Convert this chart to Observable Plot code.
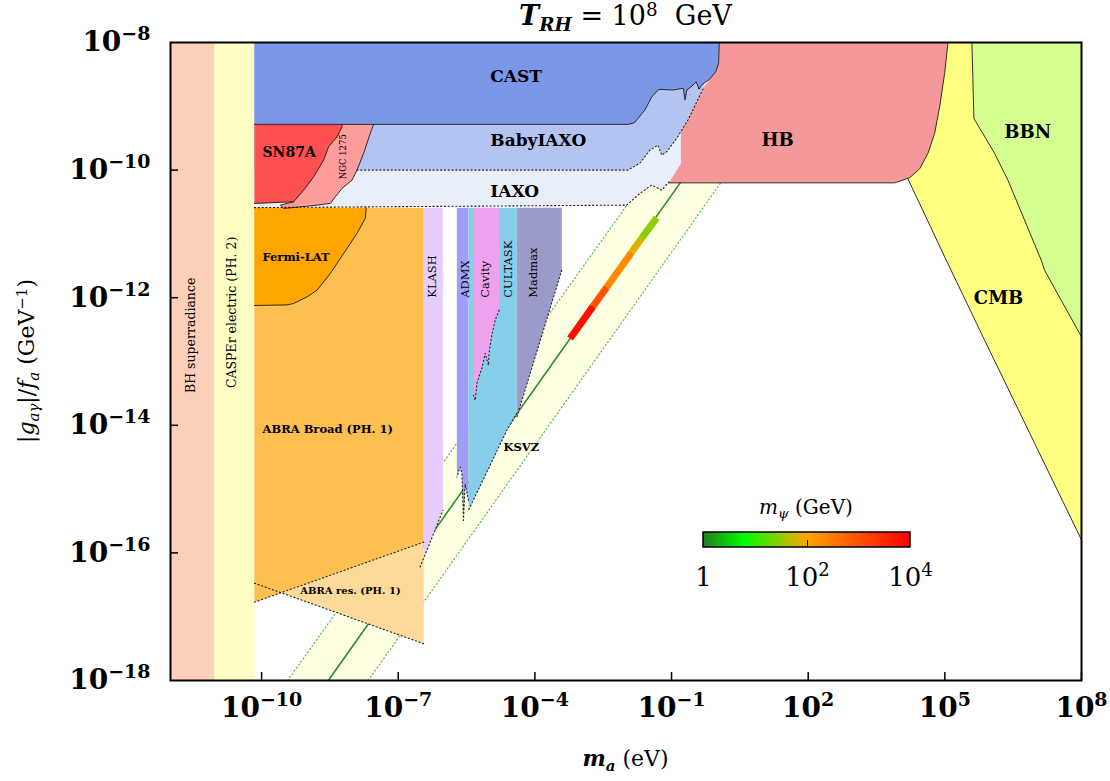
<!DOCTYPE html>
<html>
<head>
<meta charset="utf-8">
<script src="https://cdn.jsdelivr.net/npm/d3@7"></script>
<script src="https://cdn.jsdelivr.net/npm/@observablehq/plot@0.6"></script>
<style>
  html, body { margin: 0; padding: 0; background: #fff; }
  #chart { position: relative; width: 1110px; height: 781px; font-family: "DejaVu Serif", serif; color: #000; overflow: hidden; }
  #chart > svg.main { position: absolute; left: 0; top: 0; }
  .txt { position: absolute; white-space: nowrap; }
  #title { left: 170px; width: 911px; top: 2px; text-align: center; font-size: 27px; line-height: 28px; }
  #xlabel { left: 170px; width: 911px; top: 745px; text-align: center; font-size: 22px; line-height: 26px; }
  #ylabel { left: -173px; top: 346px; width: 400px; height: 30px; line-height: 30px; text-align: center; font-size: 22px; transform: rotate(-90deg); }
  #cbar { position: absolute; left: 683px; top: 532px; }
  #cbtitle { left: 706px; width: 200px; top: 495px; text-align: center; font-size: 20px; line-height: 24px; }
  .sb { position: relative; font-size: 0.68em; top: 0.32em; }
  .sp { position: relative; font-size: 0.68em; top: -0.5em; }
</style>
</head>
<body>
<div id="chart">
  <div class="txt" id="title"><b><i>T</i><span class="sb"><i>RH</i></span></b> = 10<span class="sp">8</span>&nbsp; GeV</div>
  <div class="txt" id="xlabel"><b><i>m</i><span class="sb"><i>a</i></span></b> (eV)</div>
  <div class="txt" id="ylabel">|<i>g</i><span class="sb"><i>aγ</i></span>|/<i>f</i><span class="sb"><i>a</i></span> (GeV<span class="sp">−1</span>)</div>
  <div class="txt" id="cbtitle"><i>m</i><span class="sb"><i>ψ</i></span> (GeV)</div>
  <div id="cbar"></div>
</div>
<script>
// ---------- data (log10 units: [log10 m_a / eV, log10 g / GeV^-1]) ----------
const xTicks = [1e-10, 1e-7, 1e-4, 1e-1, 1e2, 1e5, 1e8];
const yTicks = [1e-8, 1e-10, 1e-12, 1e-14, 1e-16, 1e-18];
const yTickMarks = [1e-10, 1e-12, 1e-14, 1e-16];
const psiTicks = [1, 100, 10000];
const psiStops = [0, 0.2, 0.5, 1];
const psiColors = ["#1f801f", "#00ff00", "#ffa500", "#ff0000"];

const bhPoly = [[-12, -8], [-11.04, -8], [-11.04, -18], [-12, -18]];
const casperPoly = [[-11.04, -8], [-10.158, -8], [-10.158, -18], [-11.04, -18]];

const ksvzBand = [[-9.43, -18], [-1.61, -10.18], [0.10, -10.18], [-7.66, -18]];
const ksvzUpper = [[-9.43, -18], [-1.98, -10.55]];
const ksvzLower = [[-7.66, -18], [0.10, -10.18]];
const ksvzLine = [[-8.535, -18], [-0.794, -10.184]];

const castPoly = [[-10.158, -8], [0.048, -8], [0.033, -8.326], [-0.029, -8.458], [-0.167, -8.577],
  [-0.344, -8.667], [-0.397, -8.734], [-0.458, -8.615], [-0.550, -8.682], [-0.664, -8.745],
  [-0.704, -8.902], [-0.741, -8.718], [-0.971, -8.745], [-1.279, -8.734], [-1.432, -8.850],
  [-1.586, -9.059], [-1.816, -9.258], [-1.95, -9.283], [-10.158, -9.283]];
const babyIaxoPoly = [[-10.158, -8], [-0.25, -8], [-0.289, -8.698], [-0.640, -9.216], [-0.888, -9.503],
  [-1.107, -9.713], [-1.217, -9.765], [-1.298, -9.608], [-1.474, -9.686], [-1.693, -9.890],
  [-1.956, -10.0], [-10.158, -10.0]];
const iaxoPoly = [[-10.158, -8], [-0.5, -8], [-0.5, -9.9], [-1.057, -10.184], [-1.217, -10.314],
  [-1.436, -10.235], [-1.693, -10.365], [-1.985, -10.549], [-10.158, -10.588]];
const sn87aPoly = [[-10.158, -9.283], [-8.235, -9.283], [-8.235, -9.321], [-8.344, -9.478], [-8.529, -9.635],
  [-8.638, -9.843], [-8.857, -10.105], [-9.077, -10.314], [-9.296, -10.497], [-10.158, -10.522]];
const ngcPoly = [[-8.235, -9.283], [-7.542, -9.283], [-7.614, -9.424], [-7.761, -9.738], [-7.906, -10.0],
  [-8.015, -10.157], [-8.235, -10.287], [-8.382, -10.419], [-8.491, -10.522], [-8.783, -10.549],
  [-9.149, -10.576], [-9.515, -10.601], [-9.588, -10.549], [-9.296, -10.497]];
const fermiPoly = [[-10.158, -10.59], [-7.702, -10.59], [-7.724, -10.758], [-7.906, -10.993], [-8.200, -11.307],
  [-8.491, -11.620], [-8.783, -11.882], [-9.002, -11.987], [-9.296, -12.091], [-9.441, -12.113], [-10.158, -12.122]];
const abraBroadPoly = [[-10.158, -10.59], [-6.44, -10.59], [-6.44, -15.831], [-10.158, -16.772]];
const abraResPoly = [[-9.572, -16.623], [-6.44, -15.831], [-6.44, -17.424]];
const abraResLower = [[-10.158, -16.474], [-6.44, -17.424]];
const klashPoly = [[-6.44, -10.59], [-6.02, -10.59], [-6.02, -15.333], [-6.151, -15.569], [-6.44, -16.066]];
const klashEdge = [[-6.52, -16.22], [-6.151, -15.569], [-6.02, -15.333]];
const admxPoly = [[-5.713, -10.59], [-5.458, -10.59], [-5.458, -15.176], [-5.531, -14.915], [-5.568, -15.490],
  [-5.603, -14.758], [-5.640, -14.654], [-5.713, -14.811]];
const cultaskPoly = [[-5.458, -10.59], [-4.397, -10.59], [-4.397, -13.812], [-4.616, -14.078], [-5.458, -15.333]];
const cavityPoly = [[-5.349, -10.59], [-4.785, -10.59], [-4.785, -12.196], [-4.873, -12.353], [-4.945, -12.588],
  [-5.004, -12.850], [-5.020, -13.059], [-5.092, -12.871], [-5.164, -13.106], [-5.274, -13.341],
  [-5.311, -13.608], [-5.349, -13.529]];
const madmaxPoly = [[-4.397, -10.59], [-3.410, -10.59], [-3.410, -11.569], [-4.397, -13.870]];
const hbPoly = [[0.048, -8], [0.033, -8.326], [-0.029, -8.458], [-0.167, -8.577], [-0.289, -8.698],
  [-0.640, -9.216], [-0.794, -9.388], [-0.794, -9.895], [-1.057, -10.2], [3.899, -10.2],
  [4.228, -10.12], [4.447, -9.98], [4.629, -9.738], [4.776, -9.424], [4.886, -9.007],
  [4.996, -8.483], [5.068, -8]];
const cmbPoly = [[5.068, -8], [4.996, -8.483], [4.886, -9.007], [4.776, -9.424], [4.629, -9.738],
  [4.447, -9.98], [4.228, -10.12], [4.191, -10.14], [4.410, -10.471], [4.996, -11.360],
  [5.873, -12.667], [8, -15.796], [8, -12.615], [7.189, -11.569], [7.116, -11.412],
  [6.384, -10.157], [6.092, -9.738], [5.638, -9.189], [5.594, -8]];
const bbnPoly = [[5.594, -8], [5.638, -9.189], [6.092, -9.738], [6.384, -10.157], [7.116, -11.412],
  [7.189, -11.569], [8, -12.615], [8, -8]];

const psiSegments = [
  {x1: -3.228, y1: -12.640, x2: -2.724, y2: -12.136, mpsi: 7000},
  {x1: -2.724, y1: -12.136, x2: -2.423, y2: -11.835, mpsi: 1000},
  {x1: -2.423, y1: -11.835, x2: -1.875, y2: -11.287, mpsi: 220},
  {x1: -1.875, y1: -11.287, x2: -1.656, y2: -11.068, mpsi: 70},
  {x1: -1.656, y1: -11.068, x2: -1.327, y2: -10.750, mpsi: 28}
];

const bigStartLabels = [
  {name: "CAST", x: -4.98, y: -8.54}, {name: "BabyIAXO", x: -4.98, y: -9.53}, {name: "IAXO", x: -4.98, y: -10.33}
];
const bigMidLabels = [
  {name: "HB", x: 1.33, y: -9.53}, {name: "BBN", x: 6.82, y: -9.40}, {name: "CMB", x: 6.18, y: -12.01}
];
const snLabels = [{name: "SN87A", x: -9.98, y: -9.73}];
const smallLabels = [
  {name: "Fermi-LAT", x: -9.98, y: -11.36}, {name: "ABRA Broad (PH. 1)", x: -9.98, y: -14.06},
  {name: "KSVZ", x: -4.69, y: -14.35}
];
const resLabels = [{name: "ABRA res. (PH. 1)", x: -9.15, y: -16.60}];
const expLabels = [
  {name: "KLASH", x: -6.26, y: -12}, {name: "ADMX", x: -5.53, y: -12}, {name: "Cavity", x: -5.09, y: -12},
  {name: "CULTASK", x: -4.58, y: -12}, {name: "Madmax", x: -4.03, y: -12}
];
const ngcLabels = [{name: "NGC 1275", x: -8.21, y: -9.79}];
const sideLabels = [
  {name: "BH superradiance", x: -11.56, y: -12.59}, {name: "CASPEr electric (PH. 2)", x: -10.65, y: -12.23}
];

// ---------- helpers ----------
const SUP = {"-": "⁻", "0": "⁰", "1": "¹", "2": "²", "3": "³", "4": "⁴", "5": "⁵", "6": "⁶", "7": "⁷", "8": "⁸", "9": "⁹"};
const UNSUP = {"⁻": "−", "⁰": "0", "¹": "1", "²": "2", "³": "3", "⁴": "4", "⁵": "5", "⁶": "6", "⁷": "7", "⁸": "8", "⁹": "9"};
const fmtPow = d => "10" + String(Math.round(Math.log10(d))).split("").map(c => SUP[c]).join("");
const fmtPsi = d => d === 1 ? "1" : fmtPow(d);
const X = d => 10 ** d[0];
const Y = d => 10 ** d[1];
const LX = d => 10 ** d.x;
const LY = d => 10 ** d.y;
const poly = (data, fill) => Plot.line(data, {x: X, y: Y, fill, stroke: "none"});
const edge = (data) => Plot.line(data, {x: X, y: Y, stroke: "#1a1a1a", strokeWidth: 0.9});
const dots = (data, stroke = "#222", w = 1.1) => Plot.line(data, {x: X, y: Y, stroke, strokeWidth: w, strokeDasharray: "1.2,2.6"});
const psiRamp = d3.scaleLinear().domain(psiStops).range(psiColors).clamp(true);

// turn "10⁻¹⁰" into "10" + raised tspan with normal digits
function raiseExponents(sel, supSize, supDy) {
  sel.each(function () {
    const s = this.textContent;
    if (!s.startsWith("10") || s.length < 3) return;
    const exp = s.slice(2).split("").map(c => UNSUP[c] ?? c).join("");
    const t = d3.select(this);
    t.text("10");
    t.append("tspan").attr("font-size", supSize).attr("dy", supDy).text(exp);
  });
}

const plot = Plot.plot({
  width: 1110,
  height: 781,
  marginTop: 42,
  marginBottom: 101,
  marginLeft: 170,
  marginRight: 29,
  style: {fontFamily: "DejaVu Serif", fontSize: "11px", background: "white", overflow: "visible"},
  x: {type: "log", domain: [1e-12, 1e8]},
  y: {type: "log", domain: [1e-18, 1e-8]},
  color: {type: "log", domain: [1, 1e4], interpolate: t => psiRamp(t)},
  marks: [
    poly(bhPoly, "#fdd0b9"),
    poly(casperPoly, "#ffffc4"),
    poly(ksvzBand, "#ffffe4"),
    dots(ksvzUpper, "#5cb85c", 1.2),
    dots(ksvzLower, "#5cb85c", 1.2),
    Plot.line(ksvzLine, {x: X, y: Y, stroke: "#2a8c2a", strokeWidth: 1.6}),
    poly(iaxoPoly, "#e9eefb"),
    poly(babyIaxoPoly, "#b3c4f1"),
    poly(castPoly, "#7b97e8"),
    poly(abraBroadPoly, "#fdbf50"),
    poly(fermiPoly, "#ffa500"),
    poly(abraResPoly, "#fdd99a"),
    poly(klashPoly, "#e6ccff"),
    poly(admxPoly, "#9e9efc"),
    poly(cultaskPoly, "#87ceeb"),
    poly(cavityPoly, "#eea2ee"),
    poly(madmaxPoly, "#9b9bc9"),
    poly(ngcPoly, "#ff9c9c"),
    poly(sn87aPoly, "#ff4f4f"),
    poly(cmbPoly, "#ffff80"),
    poly(bbnPoly, "#d4fe8f"),
    poly(hbPoly, "#f5989a"),
    // outlines
    edge(castPoly.slice(1)),
    edge(sn87aPoly.slice(1)),
    edge(ngcPoly.slice(1)),
    edge(fermiPoly.slice(1)),
    edge(hbPoly.slice(8)),
    edge(cmbPoly.slice(7, 12)),
    edge(bbnPoly.slice(0, 7)),
    // dotted boundaries
    dots([[-7.906, -10.0], ...babyIaxoPoly.slice(2, 11).reverse()]),
    dots(iaxoPoly.slice(3).reverse()),
    dots([abraBroadPoly[3], abraBroadPoly[2]]),
    dots(abraResLower),
    dots(klashEdge),
    dots(admxPoly.slice(2)),
    dots(cultaskPoly.slice(2)),
    dots(cavityPoly.slice(2)),
    dots(madmaxPoly.slice(2)),
    // m_psi coloured segment on KSVZ line
    Plot.link(psiSegments, {x1: d => 10 ** d.x1, y1: d => 10 ** d.y1, x2: d => 10 ** d.x2, y2: d => 10 ** d.y2,
      stroke: "mpsi", strokeWidth: 7, strokeLinecap: "butt"}),
    // labels
    Plot.text(bigStartLabels, {x: LX, y: LY, text: "name", textAnchor: "start", fontSize: 17, fontWeight: "bold"}),
    Plot.text(bigMidLabels, {x: LX, y: LY, text: "name", textAnchor: "middle", fontSize: 18, fontWeight: "bold"}),
    Plot.text(snLabels, {x: LX, y: LY, text: "name", textAnchor: "start", fontSize: 14, fontWeight: "bold"}),
    Plot.text(smallLabels, {x: LX, y: LY, text: "name", textAnchor: "start", fontSize: 11.5, fontWeight: "bold"}),
    Plot.text(resLabels, {x: LX, y: LY, text: "name", textAnchor: "start", fontSize: 10, fontWeight: "bold"}),
    Plot.text(expLabels, {x: LX, y: LY, text: "name", textAnchor: "start", rotate: -90, fontSize: 11.5}),
    Plot.text(ngcLabels, {x: LX, y: LY, text: "name", textAnchor: "middle", rotate: -90, fontSize: 8.5}),
    Plot.text(sideLabels, {x: LX, y: LY, text: "name", textAnchor: "middle", rotate: -90, fontSize: 12.5}),
    // ticks, frame, axes
    Plot.ruleX(xTicks, {insetTop: 630, stroke: "black", strokeWidth: 1.5}),
    Plot.ruleY(yTickMarks, {insetRight: 903, stroke: "black", strokeWidth: 1.5}),
    Plot.frame({stroke: "black", strokeWidth: 2}),
    Plot.axisX(xTicks, {tickSize: 0, tickPadding: 17, fontSize: 28, fontWeight: "bold", tickFormat: fmtPow, label: null}),
    Plot.axisY(yTicks, {tickSize: 0, tickPadding: 20, fontSize: 28, fontWeight: "bold", tickFormat: fmtPow, label: null})
  ]
});
plot.classList.add("main");
document.getElementById("chart").prepend(plot);
raiseExponents(d3.select(plot).selectAll('g[aria-label="x-axis tick label"] text, g[aria-label="y-axis tick label"] text'), 19, -11);

// colour bar legend from the plot's own colour scale
const leg = plot.legend("color", {
  width: 257, height: 55, marginLeft: 20, marginRight: 30, marginTop: 0, marginBottom: 40,
  ticks: psiTicks, tickFormat: fmtPsi, tickSize: 0, label: null
});
document.getElementById("cbar").appendChild(leg);
const lg = d3.select(leg);
lg.style("background", "none");
lg.selectAll("text").attr("font-size", 26).attr("font-family", "DejaVu Serif").attr("y", 21);
raiseExponents(lg.selectAll(".tick text"), 18, -10);
lg.selectAll(".tick").filter(d => d !== 100).select("line").remove();
lg.selectAll(".tick line").attr("y1", -7).attr("y2", 0).attr("stroke", "#000");
const img = lg.select("image");
if (!img.empty()) {
  lg.append("rect")
    .attr("x", img.attr("x")).attr("y", img.attr("y"))
    .attr("width", img.attr("width")).attr("height", img.attr("height"))
    .attr("fill", "none").attr("stroke", "#000").attr("stroke-width", 1.5);
}
</script>
</body>
</html>
